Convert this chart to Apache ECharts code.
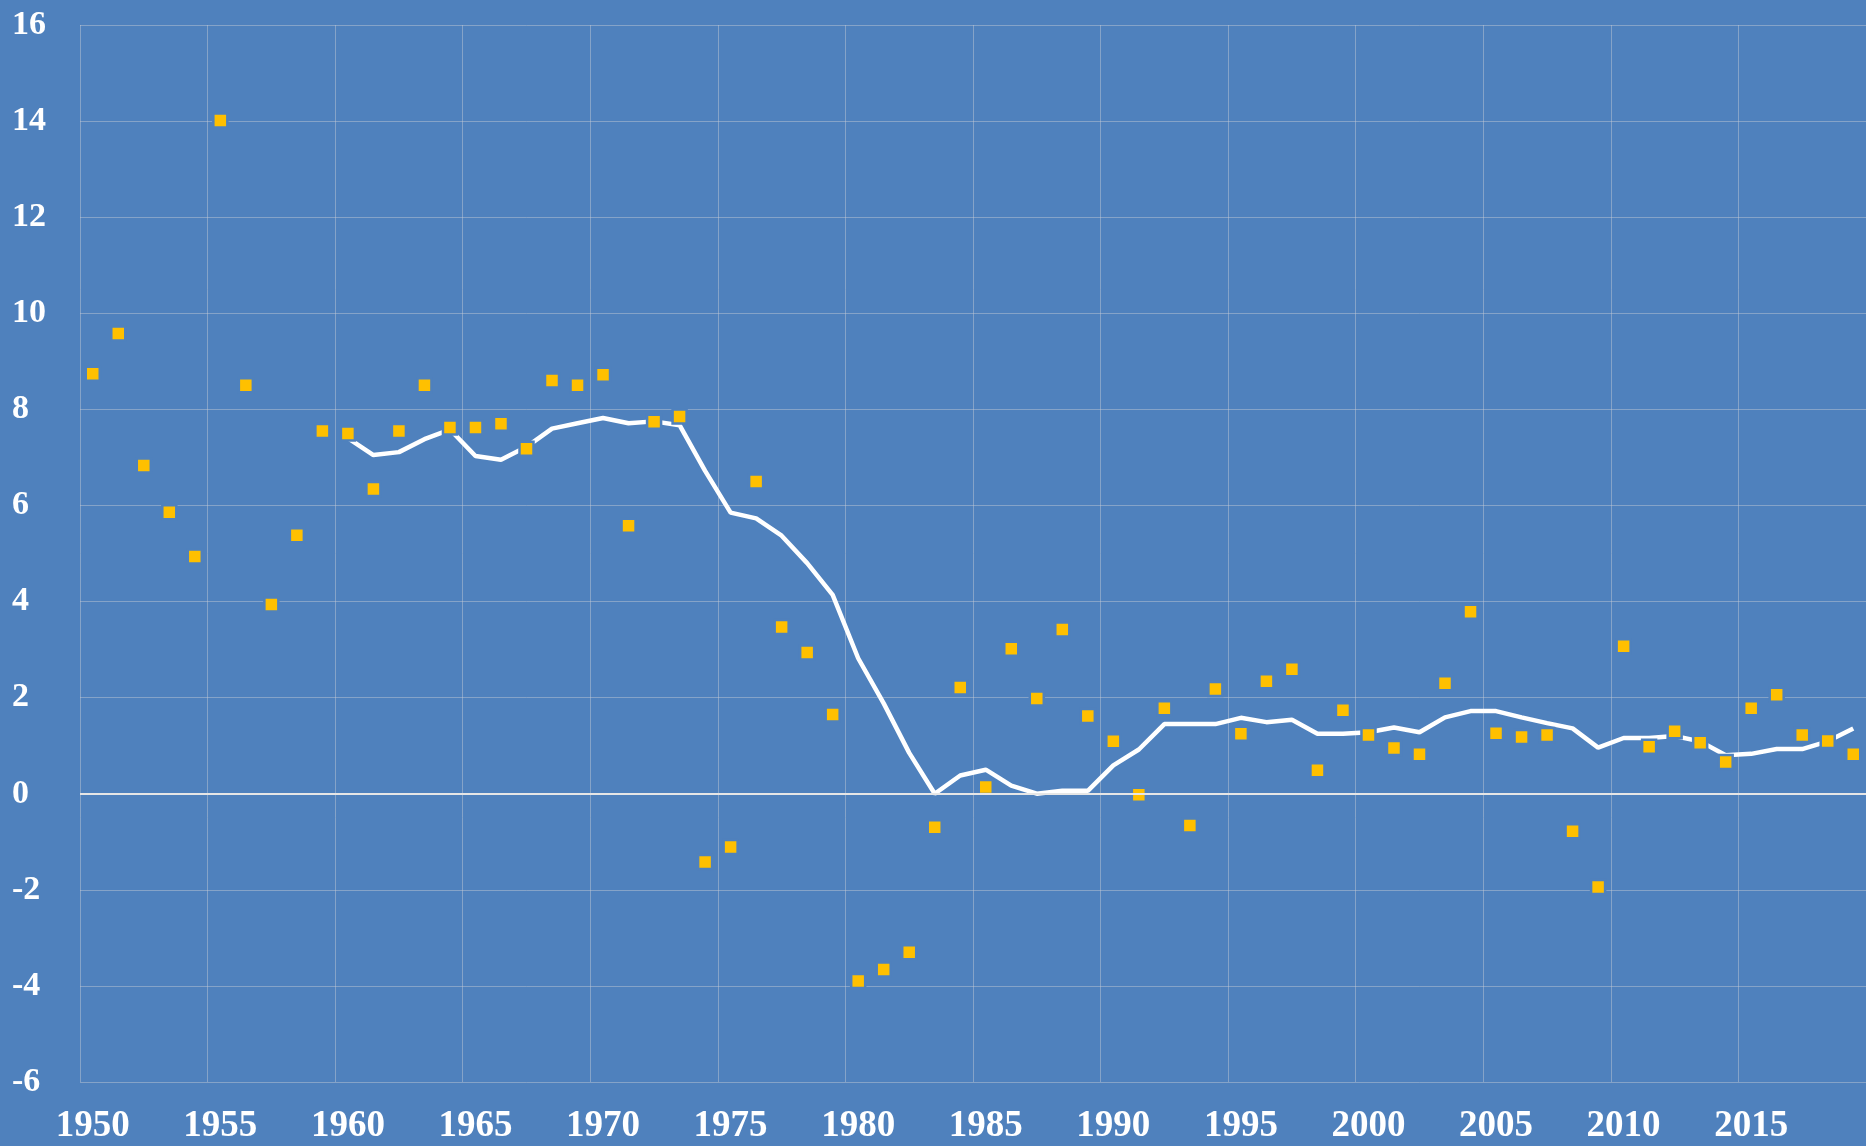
<!DOCTYPE html>
<html>
<head>
<meta charset="utf-8">
<script src="https://cdn.jsdelivr.net/npm/echarts@6/dist/echarts.min.js"></script>
<style>
  html, body { margin: 0; padding: 0; background: #4F81BD; }
  #chart { width: 1866px; height: 1146px; }
</style>
</head>
<body>
<div id="chart"></div>
<script>
// years 1950..2019
const years = [];
for (let y = 1950; y <= 2019; y++) years.push(String(y));

// yearly values (yellow squares)
const yearlyValues = [
  8.74, 9.58, 6.83, 5.86, 4.94, 14.01, 8.50, 3.94, 5.38, 7.55,
  7.50, 6.34, 7.55, 8.50, 7.62, 7.62, 7.70, 7.18, 8.60, 8.50,
  8.72, 5.58, 7.74, 7.85, -1.42, -1.11, 6.50, 3.47, 2.94, 1.65,
  -3.90, -3.66, -3.30, -0.70, 2.21, 0.14, 3.02, 1.98, 3.42, 1.62,
  1.09, -0.02, 1.78, -0.66, 2.18, 1.25, 2.34, 2.59, 0.49, 1.74,
  1.22, 0.95, 0.82, 2.30, 3.79, 1.26, 1.18, 1.22, -0.78, -1.94,
  3.07, 0.98, 1.30, 1.06, 0.66, 1.78, 2.06, 1.22, 1.10, 0.82
];

// trend line (white), starts in 1960
const trendValues = [
  null, null, null, null, null, null, null, null, null, null,
  7.40, 7.05, 7.11, 7.38, 7.58, 7.03, 6.95, 7.22, 7.60, 7.71,
  7.82, 7.71, 7.75, 7.67, 6.72, 5.85, 5.73, 5.37, 4.80, 4.14,
  2.82, 1.88, 0.85, 0.00, 0.38, 0.50, 0.17, 0.00, 0.06, 0.06,
  0.59, 0.92, 1.45, 1.45, 1.45, 1.58, 1.49, 1.54, 1.25, 1.25,
  1.28, 1.38, 1.28, 1.59, 1.72, 1.72, 1.59, 1.47, 1.36, 0.96,
  1.16, 1.16, 1.20, 1.09, 0.80, 0.83, 0.93, 0.93, 1.09, 1.36
];

const bg = '#4F81BD';
const gridColor = 'rgba(200,205,212,0.45)';
const labelFont = {
  color: '#FFFFFF',
  fontFamily: '"Liberation Serif", serif',
  fontWeight: 'bold'
};

const chart = echarts.init(document.getElementById('chart'));

const option = {
  backgroundColor: bg,
  animation: false,
  grid: { left: 80, top: 25, right: 0, bottom: 64, containLabel: false },
  xAxis: {
    type: 'category',
    data: years,
    boundaryGap: true,
    axisLine: { show: false },
    axisTick: { show: false },
    axisLabel: Object.assign({ interval: 4, margin: 26, fontSize: 37 }, labelFont),
    splitLine: { show: true, interval: 4, lineStyle: { color: gridColor, width: 1 } }
  },
  yAxis: {
    type: 'value',
    min: -6,
    max: 16,
    interval: 2,
    axisLine: { show: false },
    axisTick: { show: false },
    axisLabel: Object.assign({ align: 'left', margin: 68, fontSize: 34 }, labelFont),
    splitLine: { show: true, lineStyle: { color: gridColor, width: 1 } }
  },
  series: [
    {
      name: 'trend',
      type: 'line',
      data: trendValues,
      showSymbol: false,
      connectNulls: false,
      lineStyle: { color: '#FFFFFF', width: 4.5 },
      z: 2,
      markLine: {
        silent: true,
        symbol: 'none',
        label: { show: false },
        lineStyle: { color: '#E6E6E6', width: 2, type: 'solid' },
        data: [{ yAxis: 0 }]
      }
    },
    {
      name: 'yearly',
      type: 'scatter',
      data: yearlyValues,
      symbol: 'rect',
      symbolSize: 14,
      itemStyle: { color: '#FFC000', borderColor: bg, borderWidth: 2.5, opacity: 1 },
      z: 3
    }
  ]
};

chart.setOption(option);
</script>
</body>
</html>
